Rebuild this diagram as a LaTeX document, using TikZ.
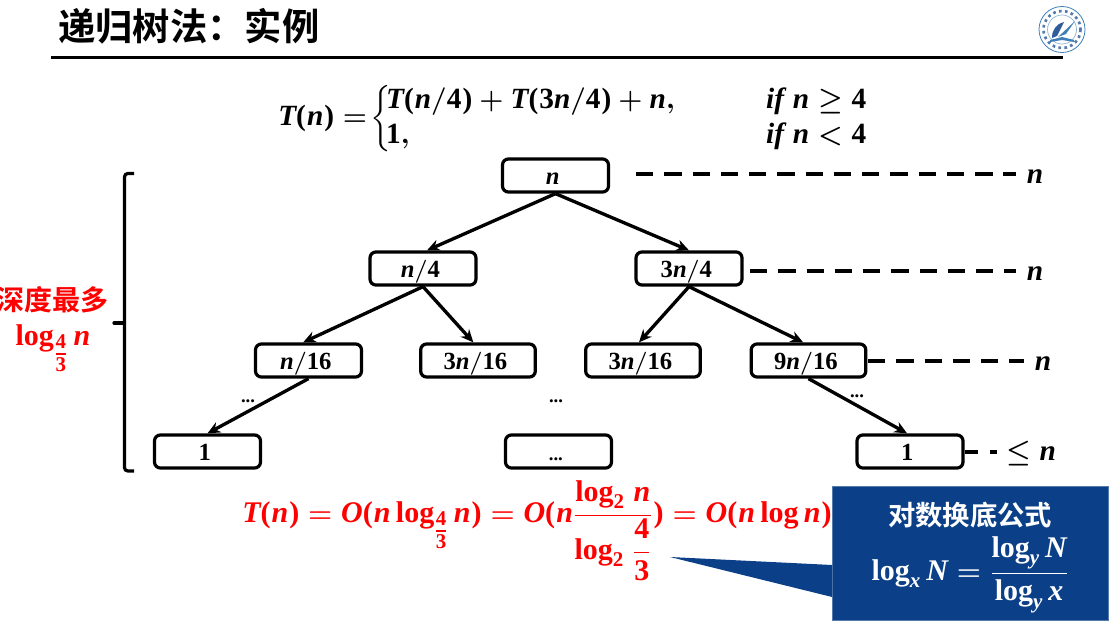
\documentclass[tikz,border=0pt]{standalone}
\usepackage{amsmath}
\usepackage{fontspec}
\newfontfamily\cjk{Noto Sans CJK SC}[BoldFont={Noto Sans CJK SC Bold}]
\newfontfamily\lserif{Liberation Serif}
\usetikzlibrary{arrows.meta,calc}
\definecolor{navy}{HTML}{0B3F87}
\definecolor{logoblue}{HTML}{3F7FB8}
\newcommand{\bi}[1]{\text{\lserif\bfseries\itshape #1}}
\newcommand{\bt}[1]{\text{\lserif\bfseries #1}}
\newcommand{\blog}{\mathop{\bt{log}}\nolimits}
\newcommand{\lp}{\mathopen{\bt{(}}\mkern0.6mu}
\newcommand{\rp}{\mkern0.6mu\mathclose{\bt{)}}}
\newcommand{\sfrac}[2]{\genfrac{}{}{1.3pt}{1}{\bt{#1}}{\bt{#2}}}
\newcommand{\mathfont}{\fontsize{18.5}{20}\selectfont\boldmath}
\newcommand{\bigmath}{\fontsize{22}{26}\selectfont\boldmath}
\newcommand{\resmath}{\fontsize{22.5}{26}\selectfont\boldmath}
\tikzset{
  tree/.style={draw=black,line width=2.4pt,rounded corners=4.5pt,fill=white,inner sep=0pt,minimum height=24.8pt,font=\mathfont,text=black,text height=12.8pt,text depth=0pt,execute at end node={\hspace*{4pt}}},
  w80/.style={minimum width=79.5pt},
  w87/.style={minimum width=86pt},
  edge/.style={line width=2.5pt,-{Stealth[length=9.5pt,width=8.5pt]}},
  lvl/.style={line width=2.4pt,dash pattern=on 13pt off 8.2pt},
  lab/.style={inner sep=0pt,font=\bigmath},
  dots/.style={inner sep=0pt,font=\lserif\bfseries\fontsize{14}{16}\selectfont},
}
\begin{document}
\begin{tikzpicture}[x=0.75pt,y=-0.75pt]
\useasboundingbox (0,0) rectangle (1112,624);
\clip (0,0) rectangle (1112,624);
% header
\node[anchor=west,inner sep=0pt,font=\cjk\bfseries\fontsize{28}{30}\selectfont] (title) at (58,26) {递归树法：实例};
\coordinate (ruleL) at (51,57.5); \coordinate (ruleR) at (1063,57.5);
\draw[line width=2.6pt] (ruleL) -- (ruleR);
% logo
\draw[logoblue,line width=0.6pt,fill=white] (1062,29.5) circle (23);
\draw[navy!70!white,line width=2pt,dash pattern=on 2pt off 2.5pt] (1062,29.5) circle (18.5);
\draw[logoblue!60!white,line width=0.5pt] (1062,29.5) circle (14.5);
\fill[navy!85!white] (1052,38) .. controls (1052,30) and (1056,24) .. (1064,22) -- (1057,36) -- cycle;
\fill[logoblue] (1058,37) -- (1075,21) -- (1066,34) -- cycle;
\fill[logoblue] (1050,40) -- (1062,37) -- (1074,40) -- (1074,42) -- (1062,40) -- (1050,42) -- cycle;
% recurrence
\node[anchor=west,inner sep=0pt,font=\bigmath] (rec) at (278,119) {$\bi{T}\lp\bi{n}\rp=\mkern-3mu\left\{\mkern-3mu\begin{array}{@{}l@{}}
  \rule{0pt}{17pt}\makebox[363pt][l]{$\bi{T}\lp\bi{n}/\bt{4}\rp+\bi{T}\lp\bt{3}\bi{n}/\bt{4}\rp+\bi{n},$\hfill\makebox[78pt][l]{$\bi{if}\ \bi{n}\geq\bt{4}$}}\\[0.5pt]
  \makebox[363pt][l]{$\bt{1},$\hfill\makebox[78pt][l]{$\bi{if}\ \bi{n}<\bt{4}$}}\rule[-8pt]{0pt}{8pt}
\end{array}\right.$};
% tree nodes
\node[tree,w80] (root) at (555.5,175.5) {$\bi{n}$};
\node[tree,w80] (a) at (423,268.5) {$\bi{n}/\bt{4}$};
\node[tree,w80] (b) at (689,268.5) {$\bt{3}\bi{n}/\bt{4}$};
\node[tree,w80] (c) at (308.5,360.5) {$\bi{n}/\bt{16}$};
\node[tree,w87] (d) at (478,360.5) {$\bt{3}\bi{n}/\bt{16}$};
\node[tree,w87] (e) at (643,360.5) {$\bt{3}\bi{n}/\bt{16}$};
\node[tree,w87] (f) at (808.5,360.5) {$\bt{9}\bi{n}/\bt{16}$};
\node[tree,w80] (g) at (207.5,451.5) {$\bt{1}$};
\node[tree,w80] (h) at (558.5,451.5) {\lserif\fontsize{14}{16}\selectfont\bfseries ...};
\node[tree,w80] (k) at (910,451.5) {$\bt{1}$};
% edges
\draw[edge] (root.south) -- ([xshift=3pt]a.north);
\draw[edge] (root.south) -- (b.north);
\draw[edge] (a.south) -- ([xshift=-4pt]c.north);
\draw[edge] (a.south) -- ([xshift=-3.5pt]d.north);
\draw[edge] (b.south) -- ([xshift=-3pt]e.north);
\draw[edge] (b.south) -- ([xshift=-4pt]f.north);
\draw[edge] (c.south) -- (g.north);
\draw[edge] (f.south) -- ([xshift=-2.2pt]k.north);
% ellipses
\node[dots] (d1) at (248,401) {...};
\node[dots] (d2) at (556,401) {...};
\node[dots] (d3) at (857,396) {...};
% level lines
\node[lab] (l1) at (1035,177) {$\bi{n}$};
\node[lab] (l2) at (1035,274) {$\bi{n}$};
\node[lab] (l3) at (1043,364) {$\bi{n}$};
\node[lab] (l4) at (1031,453.5) {$\leq\bi{n}$};
\coordinate (s1) at (636,174); \coordinate (t1) at (1016,174);
\coordinate (s2) at (750,271); \coordinate (t2) at (1016,271);
\coordinate (s3) at (868,361); \coordinate (t3) at (1024,361);
\coordinate (s4) at (965,452); \coordinate (t4) at (997,452);
\draw[lvl] (s1) -- (t1);
\draw[lvl] (s2) -- (t2);
\draw[lvl] (s3) -- (t3);
\draw[line width=2.4pt,dash pattern=on 10pt off 8.5pt] (s4) -- (t4);
% bracket
\coordinate (bt) at (134,173.5); \coordinate (bb) at (134,471); \coordinate (bm) at (114,323); \coordinate (bx) at (124.5,323);
\draw[line width=2.4pt,rounded corners=2.5pt] (bt) -| (bx) |- (bb);
\draw[line width=2.4pt,line cap=round] (bm) -- (bx);
% depth label
\node[anchor=east,inner sep=0pt,text=red,font=\cjk\bfseries\fontsize{21}{24}\selectfont] (depth) at (108.5,300) {深度最多};
\node[anchor=base,inner sep=0pt,text=red,font=\resmath] (depthf) at (53,345) {$\blog_{\sfrac{4}{3}} \bi{n}$};
% result
\node[anchor=base west,inner sep=0pt,text=red,font=\resmath] (res) at (242,522) {$\bi{T}\lp\bi{n}\rp=\bi{O}\lp\bi{n}\blog_{\sfrac{4}{3}} \bi{n}\rp=\bi{O}\lp\bi{n}\dfrac{\blog_{\bt{2}}\mkern2mu \bi{n}}{\blog_{\bt{2}}\mkern2mu\genfrac{}{}{1.3pt}{0}{\bt{4}}{\bt{3}}}\rp=\bi{O}\lp\bi{n}\blog \bi{n}\rp$};
% callout
\node[draw=navy!70!white,line width=0.6pt,fill=navy,minimum width=207pt,minimum height=100pt,inner sep=0pt] (box) at (970,553.5) {};
\coordinate (tip) at (670,557);
\fill[navy] ($(box.west)+(0.5,11.5)$) -- (tip) -- ($(box.west)+(0.5,43.5)$) -- cycle;
\node[inner sep=0pt,text=white,font=\cjk\bfseries\fontsize{20.5}{24}\selectfont] (cap) at (970,515) {对数换底公式};
\node[anchor=base,inner sep=0pt,text=white,font=\resmath] (form) at (970,580) {$\blog_{\bi{x}} \bi{N}=\dfrac{\blog_{\bi{y}} \bi{N}}{\blog_{\bi{y}} \bi{x}}$};
\end{tikzpicture}
\end{document}
